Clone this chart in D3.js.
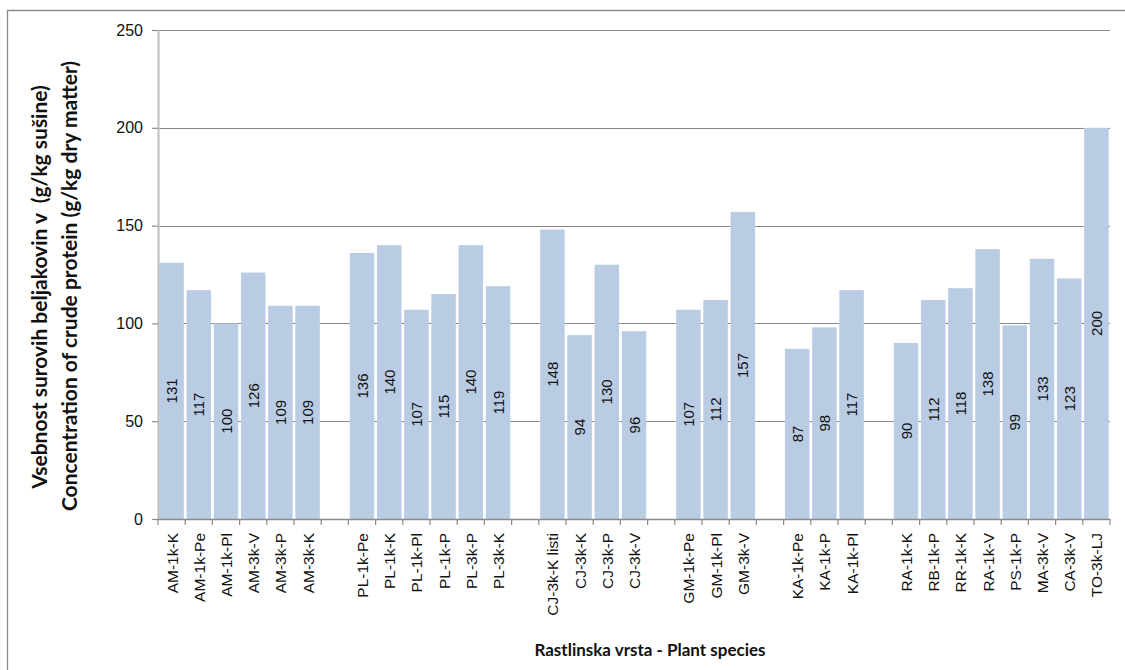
<!DOCTYPE html>
<html>
<head>
<meta charset="utf-8">
<script src="https://cdn.jsdelivr.net/npm/d3@7"></script>
<style>
  html, body { margin: 0; padding: 0; background: #fff; }
  svg { display: block; }
  text { white-space: pre; }
</style>
</head>
<body>
<svg id="chart" width="1125" height="670"></svg>
<script>
// Plant samples; empty strings mark the spacer slots between species groups
const categories = [
  "AM-1k-K", "AM-1k-Pe", "AM-1k-Pl", "AM-3k-V", "AM-3k-P", "AM-3k-K", "",
  "PL-1k-Pe", "PL-1k-K", "PL-1k-Pl", "PL-1k-P", "PL-3k-P", "PL-3k-K", "",
  "CJ-3k-K listi", "CJ-3k-K", "CJ-3k-P", "CJ-3k-V", "",
  "GM-1k-Pe", "GM-1k-Pl", "GM-3k-V", "",
  "KA-1k-Pe", "KA-1k-P", "KA-1k-Pl", "",
  "RA-1k-K", "RB-1k-P", "RR-1k-K", "RA-1k-V", "PS-1k-P", "MA-3k-V", "CA-3k-V", "TO-3k-LJ"
];
// Crude protein, g/kg dry matter (null = spacer)
const protein = [
  131, 117, 100, 126, 109, 109, null,
  136, 140, 107, 115, 140, 119, null,
  148, 94, 130, 96, null,
  107, 112, 157, null,
  87, 98, 117, null,
  90, 112, 118, 138, 99, 133, 123, 200
];
const yTicks = [0, 50, 100, 150, 200, 250];

const yTitle1 = "Vsebnost surovih beljakovin v  (g/kg sušine)";
const yTitle2 = "Concentration of crude protein (g/kg dry matter)";
const xTitle = "Rastlinska vrsta - Plant species";

const svg = d3.select("#chart");
const plot = { left: 158, right: 1110, top: 30, bottom: 519 };

const slots = categories.map((c, i) => ({ key: "s" + i, name: c, value: protein[i] }));

const x = d3.scaleBand()
  .domain(slots.map(d => d.key))
  .range([plot.left, plot.right])
  .paddingInner(0).paddingOuter(0);

const y = d3.scaleLinear().domain([0, 250]).range([plot.bottom, plot.top]);

// outer chart frame (left and top edges visible)
svg.append("line").attr("x1", 7.5).attr("x2", 7.5).attr("y1", 10.5).attr("y2", 670)
  .attr("stroke", "#8c8c8c").attr("stroke-width", 1.3);
svg.append("line").attr("x1", 7).attr("x2", 1125).attr("y1", 10.5).attr("y2", 10.5)
  .attr("stroke", "#8c8c8c").attr("stroke-width", 1.3);

// horizontal gridlines
svg.append("g").selectAll("line")
  .data(yTicks.filter(t => t > 0))
  .join("line")
  .attr("x1", plot.left).attr("x2", plot.right)
  .attr("y1", d => Math.round(y(d)) + 0.5).attr("y2", d => Math.round(y(d)) + 0.5)
  .attr("stroke", "#8a8a8a").attr("stroke-width", 1.2);

// bars
const step = x.step();
const barW = step * 0.9;
const bars = slots.filter(d => d.value != null);
svg.append("g").selectAll("rect")
  .data(bars)
  .join("rect")
  .attr("x", d => x(d.key) + (step - barW) / 2)
  .attr("width", barW)
  .attr("y", d => y(d.value))
  .attr("height", d => y(0) - y(d.value))
  .attr("fill", "#b9cce4");

// value labels, centred in each bar
svg.append("g").selectAll("text")
  .data(bars)
  .join("text")
  .attr("transform", d => `translate(${x(d.key) + step / 2 + 5.5},${(y(d.value) + y(0)) / 2}) rotate(-90)`)
  .attr("text-anchor", "middle")
  .attr("font-family", "'Liberation Sans', Arial, sans-serif")
  .attr("font-size", 15)
  .attr("fill", "#111")
  .text(d => d.value);

// y axis
const yAxis = d3.axisLeft(y).tickValues(yTicks).tickSize(6).tickPadding(9);
const gy = svg.append("g").attr("transform", `translate(${plot.left},0)`).call(yAxis);
gy.select(".domain").attr("stroke", "#bdbdbd").attr("stroke-width", 2)
  .attr("d", `M0.5,${plot.top}V${plot.bottom}`);
gy.selectAll(".tick line").attr("stroke", "#8a8a8a").attr("stroke-width", 1.2);
gy.selectAll(".tick text")
  .attr("font-family", "'Liberation Sans', Arial, sans-serif")
  .attr("font-size", 16).attr("fill", "#111");

// x axis: ticks sit on slot boundaries, labels on slot centres
const gx = svg.append("g").attr("transform", `translate(0,${plot.bottom})`);
gx.append("line").attr("x1", plot.left).attr("x2", plot.right).attr("y1", 0.5).attr("y2", 0.5)
  .attr("stroke", "#8a8a8a").attr("stroke-width", 1.4);
const bounds = slots.map(d => x(d.key)).concat([plot.right]);
gx.selectAll("line.tk").data(bounds).join("line").attr("class", "tk")
  .attr("x1", d => d).attr("x2", d => d).attr("y1", 0).attr("y2", 6)
  .attr("stroke", "#8a8a8a").attr("stroke-width", 1.2);
gx.selectAll("text").data(slots.filter(d => d.name)).join("text")
  .attr("transform", d => `translate(${x(d.key) + step / 2 + 6},14) rotate(-90)`)
  .attr("text-anchor", "end")
  .attr("font-family", "'Liberation Sans', Arial, sans-serif")
  .attr("font-size", 15.5)
  .attr("fill", "#111")
  .text(d => d.name);

// axis titles
const titleFont = "Lato, 'Open Sans', sans-serif";
svg.append("text")
  .attr("transform", `translate(47,287) rotate(-90)`)
  .attr("text-anchor", "middle")
  .attr("font-family", titleFont).attr("font-weight", 700).attr("font-size", 21)
  .attr("fill", "#111")
  .text(yTitle1);
svg.append("text")
  .attr("transform", `translate(77,286) rotate(-90)`)
  .attr("text-anchor", "middle")
  .attr("font-family", titleFont).attr("font-weight", 700).attr("font-size", 21)
  .attr("fill", "#111")
  .text(yTitle2);
svg.append("text")
  .attr("x", 650).attr("y", 656)
  .attr("text-anchor", "middle")
  .attr("font-family", titleFont).attr("font-weight", 700).attr("font-size", 17)
  .attr("fill", "#111")
  .text(xTitle);
</script>
</body>
</html>
